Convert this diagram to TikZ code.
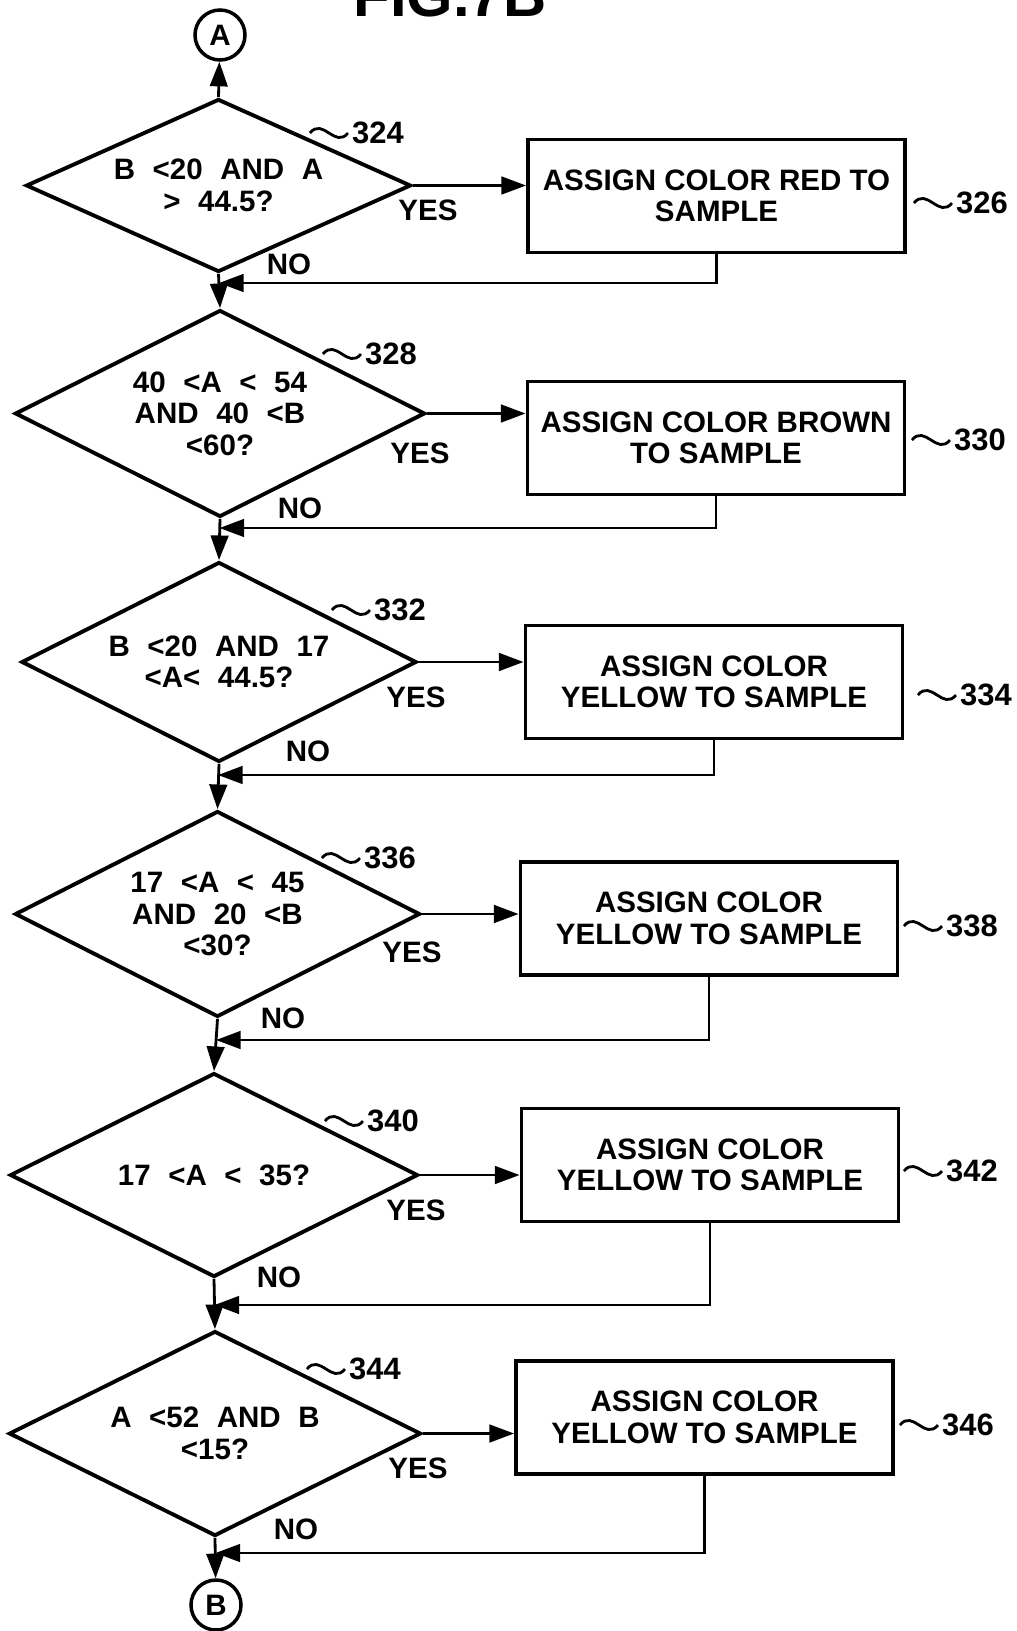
\documentclass[tikz,border=0pt]{standalone}
\usepackage{fontspec}
\setmainfont{Liberation Sans}
\usepackage{tikz}
\usetikzlibrary{arrows.meta,positioning,shapes.geometric}
\tikzset{
  box/.style={rectangle, draw, line width=1.1pt, minimum width=3.77cm,
              minimum height=1.13cm, inner sep=0pt, align=center},
  decision/.style 2 args={diamond, draw, line width=1.1pt, aspect=2,
              minimum width=#1, minimum height=#2, inner sep=0pt, align=center,
              execute at begin node={\spaceskip=5pt\relax}},
  conn/.style={circle, draw, line width=1pt, minimum size=0.5cm, inner sep=0pt},
  arr/.style={-{Triangle[length=7pt, width=5pt]}, line width=0.8pt},
  refnum/.style={inner sep=1pt, font=\fontsize{8.8}{9}\selectfont\bfseries},
  wave/.style={line width=0.8pt},
}

\begin{document}
\begin{tikzpicture}[every node/.style={font=\fontsize{8.4}{9}\selectfont\bfseries}]
  \useasboundingbox (0,0) rectangle (10.17,-16.31);
  \node[anchor=base, font=\fontsize{17}{17}\selectfont\bfseries] (title) at (4.50,-0.165) {FIG.7B};

  % connectors
  \node[conn] (A) at (2.20,-0.35) {A};
  \node[conn] (B) at (2.16,-16.05) {B};

  % decisions
  \node[decision={3.85cm}{1.73cm}] (d1) at (2.185,-1.855) {B <20 AND A\\> 44.5?};
  \node[decision={4.10cm}{2.07cm}] (d2) at (2.20,-4.135) {40 <A < 54\\AND 40 <B\\<60?};
  \node[decision={3.95cm}{2.00cm}] (d3) at (2.19,-6.62) {B <20 AND 17\\<A< 44.5?};
  \node[decision={4.05cm}{2.06cm}] (d4) at (2.175,-9.14) {17 <A < 45\\AND 20 <B\\<30?};
  \node[decision={4.08cm}{2.04cm}] (d5) at (2.14,-11.75) {17 <A < 35?};
  \node[decision={4.12cm}{2.05cm}] (d6) at (2.15,-14.335) {A <52 AND B\\<15?};

  % actions
  \node[box] (b1) at (7.165,-1.96) {ASSIGN COLOR RED TO\\SAMPLE};
  \node[box] (b2) at (7.16,-4.38) {ASSIGN COLOR BROWN\\TO SAMPLE};
  \node[box] (b3) at (7.14,-6.82) {ASSIGN COLOR\\YELLOW TO SAMPLE};
  \node[box] (b4) at (7.09,-9.185) {ASSIGN COLOR\\YELLOW TO SAMPLE};
  \node[box] (b5) at (7.10,-11.65) {ASSIGN COLOR\\YELLOW TO SAMPLE};
  \node[box] (b6) at (7.045,-14.175) {ASSIGN COLOR\\YELLOW TO SAMPLE};

  % reference numerals
  \node[refnum] (n324) at (3.78,-1.33) {324};
  \node[refnum] (n326) at (9.82,-2.03) {326};
  \node[refnum] (n328) at (3.91,-3.54) {328};
  \node[refnum] (n330) at (9.80,-4.40) {330};
  \node[refnum] (n332) at (4.00,-6.10) {332};
  \node[refnum] (n334) at (9.86,-6.95) {334};
  \node[refnum] (n336) at (3.90,-8.58) {336};
  \node[refnum] (n338) at (9.72,-9.26) {338};
  \node[refnum] (n340) at (3.93,-11.21) {340};
  \node[refnum] (n342) at (9.72,-11.71) {342};
  \node[refnum] (n344) at (3.75,-13.69) {344};
  \node[refnum] (n346) at (9.68,-14.25) {346};
  \foreach \n in {324,326,...,346}
    \draw[wave] (n\n.west) .. controls +(-0.13,-0.16) and +(0.13,0.16) .. ++(-0.38,0);

  % yes / no labels
  \node (yes1) at (4.28,-2.10) {YES};
  \node (yes2) at (4.20,-4.53) {YES};
  \node (yes3) at (4.16,-6.97) {YES};
  \node (yes4) at (4.12,-9.52) {YES};
  \node (yes5) at (4.16,-12.10) {YES};
  \node (yes6) at (4.18,-14.68) {YES};
  \node (no1) at (2.89,-2.64) {NO};
  \node (no2) at (3.00,-5.08) {NO};
  \node (no3) at (3.08,-7.51) {NO};
  \node (no4) at (2.83,-10.18) {NO};
  \node (no5) at (2.79,-12.77) {NO};
  \node (no6) at (2.96,-15.29) {NO};

  % merge points
  \coordinate (r1) at (2.19,-2.83);
  \coordinate (r2) at (2.195,-5.28);
  \coordinate (r3) at (2.18,-7.75);
  \coordinate (r4) at (2.16,-10.40);
  \coordinate (r5) at (2.145,-13.05);
  \coordinate (r6) at (2.155,-15.53);

  \draw[arr] (d1.north) -- (A);
  \draw[arr] (d1.south) -- (d2.north);
  \draw[arr] (d2.south) -- (d3.north);
  \draw[arr] (d3.south) -- (d4.north);
  \draw[arr] (d4.south) -- (d5.north);
  \draw[arr] (d5.south) -- (d6.north);
  \draw[arr] (d6.south) -- (B);

  \draw[arr] (d1.east) -- (d1.east -| b1.west);
  \draw[arr] (d2.east) -- (d2.east -| b2.west);
  \draw[arr] (d3.east) -- (d3.east -| b3.west);
  \draw[arr] (d4.east) -- (d4.east -| b4.west);
  \draw[arr] (d5.east) -- (d5.east -| b5.west);
  \draw[arr] (d6.east) -- (d6.east -| b6.west);

  \draw[arr] (b1.south) |- (r1);
  \draw[arr] (b2.south) |- (r2);
  \draw[arr] (b3.south) |- (r3);
  \draw[arr] (b4.south) |- (r4);
  \draw[arr] (b5.south) |- (r5);
  \draw[arr] (b6.south) |- (r6);
\end{tikzpicture}
\end{document}
